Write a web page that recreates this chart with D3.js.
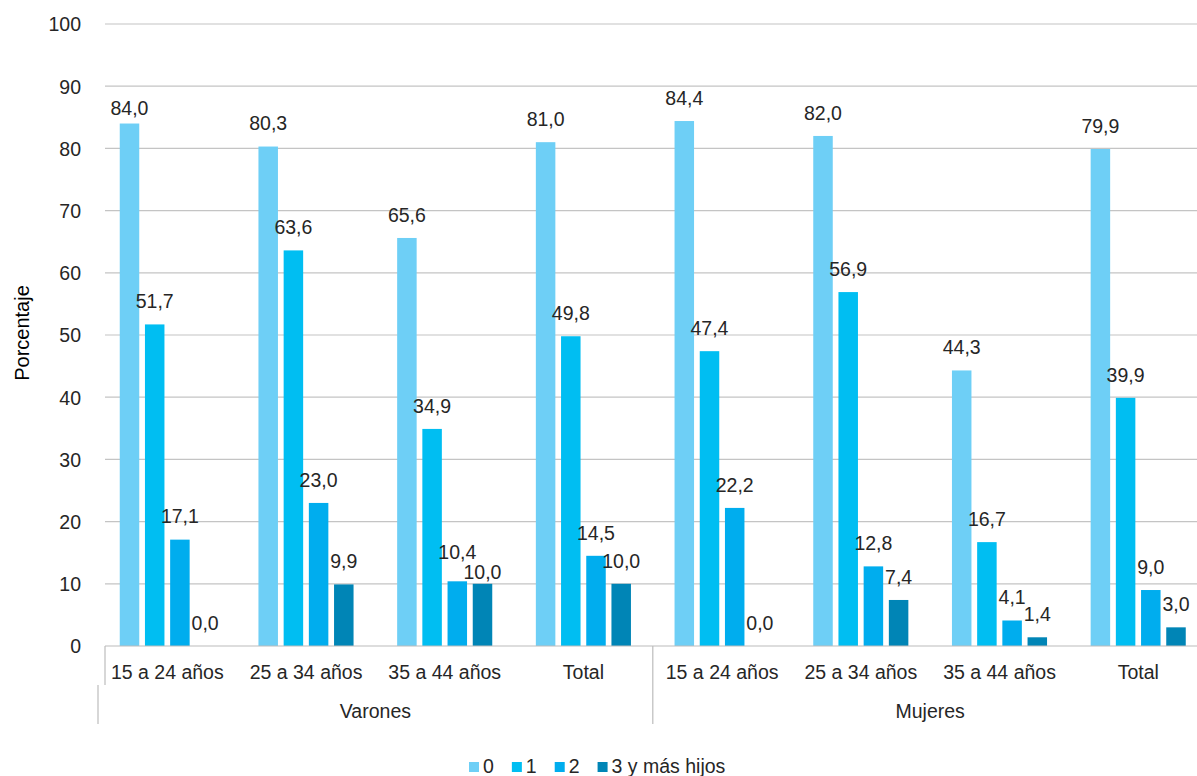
<!DOCTYPE html>
<html>
<head>
<meta charset="utf-8">
<script src="https://cdn.jsdelivr.net/npm/d3@7"></script>
<style>
  html, body { margin: 0; padding: 0; background: #fff; }
  svg { display: block; }
  text { font-family: "Liberation Sans", Arial, sans-serif; fill: #262626; }
</style>
</head>
<body>
<svg id="chart" width="1197" height="776"></svg>
<script>
// ---- data ----
const categories = ["15 a 24 años", "25 a 34 años", "35 a 44 años", "Total",
                    "15 a 24 años", "25 a 34 años", "35 a 44 años", "Total"];
const groups = ["Varones", "Mujeres"];
const seriesNames = ["0", "1", "2", "3 y más hijos"];
const hijos0 = [84.0, 80.3, 65.6, 81.0, 84.4, 82.0, 44.3, 79.9];
const hijos1 = [51.7, 63.6, 34.9, 49.8, 47.4, 56.9, 16.7, 39.9];
const hijos2 = [17.1, 23.0, 10.4, 14.5, 22.2, 12.8, 4.1, 9.0];
const hijos3 = [0.0, 9.9, 10.0, 10.0, 0.0, 7.4, 1.4, 3.0];
const yTicks = [0, 10, 20, 30, 40, 50, 60, 70, 80, 90, 100];
const yTitle = "Porcentaje";

// ---- layout / style ----
const colors = ["#6ecff6", "#00bef2", "#00adee", "#0085b6"];
const labelShift = { "0-0": 7.5, "2-2": -6.5, "2-3": 11 }; // manual label nudges (px)
const W = 1197, H = 776;
const plotTop = 24, plotBottom = 646;
const gridLeft = 105;
const fontSize = 19.5;

const series = [hijos0, hijos1, hijos2, hijos3];
const rows = [];
categories.forEach((c, ci) => {
  series.forEach((s, si) => rows.push({ ci, si, value: s[ci] }));
});

const svg = d3.select("#chart");
const fmt = d3.formatLocale({ decimal: ",", thousands: ".", grouping: [3], currency: ["", ""] }).format(".1f");

const x = d3.scaleBand().domain(d3.range(categories.length)).range([98, 1207.6]).paddingInner(0).paddingOuter(0);
const xi = d3.scaleBand().domain(d3.range(seriesNames.length)).range([21.75, 21.75 + 95.1]).paddingInner(0.226).paddingOuter(0);
const y = d3.scaleLinear().domain([0, 100]).range([plotBottom, plotTop]);

// gridlines
svg.append("g").selectAll("line").data(yTicks.filter(t => t > 0)).join("line")
  .attr("x1", gridLeft).attr("x2", W)
  .attr("y1", d => y(d)).attr("y2", d => y(d))
  .attr("stroke", "#c4c4c4").attr("stroke-width", 1.2);

// y axis labels
const yAxis = d3.axisLeft(y).tickValues(yTicks).tickSize(0).tickPadding(0).tickFormat(d3.format("d"));
const ya = svg.append("g").attr("transform", "translate(81,0)").call(yAxis);
ya.select(".domain").remove();
ya.selectAll("text").attr("font-size", fontSize).attr("font-family", "Liberation Sans, Arial, sans-serif")
  .attr("fill", "#262626").attr("dy", "0.35em");

// y title
svg.append("text").attr("transform", "translate(29,333) rotate(-90)")
  .attr("text-anchor", "middle").attr("font-size", 20).style("fill", "#000").text(yTitle);

// bars
svg.append("g").selectAll("rect").data(rows).join("rect")
  .attr("x", d => x(d.ci) + xi(d.si))
  .attr("width", xi.bandwidth())
  .attr("y", d => y(d.value))
  .attr("height", d => y(0) - y(d.value))
  .attr("fill", d => colors[d.si]);

// value labels
svg.append("g").selectAll("text").data(rows).join("text")
  .attr("x", d => x(d.ci) + xi(d.si) + xi.bandwidth() / 2)
  .attr("y", d => y(d.value) - 16.3 + (labelShift[d.ci + "-" + d.si] || 0))
  .attr("text-anchor", "middle")
  .attr("font-size", fontSize)
  .text(d => fmt(d.value));

// x axis baseline
const axisCol = "#bcbcbc";
svg.append("line").attr("x1", gridLeft).attr("x2", W).attr("y1", plotBottom).attr("y2", plotBottom)
  .attr("stroke", axisCol).attr("stroke-width", 1.2);
// category box edges
svg.append("line").attr("x1", gridLeft).attr("x2", gridLeft).attr("y1", plotBottom).attr("y2", 685)
  .attr("stroke", axisCol).attr("stroke-width", 1.2);
svg.append("line").attr("x1", 98).attr("x2", 98).attr("y1", 685).attr("y2", 724)
  .attr("stroke", axisCol).attr("stroke-width", 1.2);
const perGroup = categories.length / groups.length;
svg.append("g").selectAll("line").data(d3.range(1, groups.length)).join("line")
  .attr("x1", d => x(d * perGroup)).attr("x2", d => x(d * perGroup))
  .attr("y1", plotBottom).attr("y2", 724)
  .attr("stroke", axisCol).attr("stroke-width", 1.2);

// category labels
svg.append("g").selectAll("text").data(categories).join("text")
  .attr("x", (d, i) => x(i) + x.bandwidth() / 2)
  .attr("y", 679)
  .attr("text-anchor", "middle").attr("font-size", fontSize)
  .text(d => d);

// group labels
svg.append("g").selectAll("text").data(groups).join("text")
  .attr("x", (d, g) => (x(g * perGroup) + x((g + 1) * perGroup - 1) + x.bandwidth()) / 2)
  .attr("y", 718)
  .attr("text-anchor", "middle").attr("font-size", fontSize)
  .text(d => d);

// legend
const lg = svg.append("g");
let lx = 469;
seriesNames.forEach((name, i) => {
  lg.append("rect").attr("x", lx).attr("y", 762).attr("width", 10).attr("height", 10).attr("fill", colors[i]);
  const t = lg.append("text").attr("x", lx + 14).attr("y", 773).attr("font-size", fontSize).text(name);
  lx += 14 + t.node().getComputedTextLength() + 18;
});
</script>
</body>
</html>
